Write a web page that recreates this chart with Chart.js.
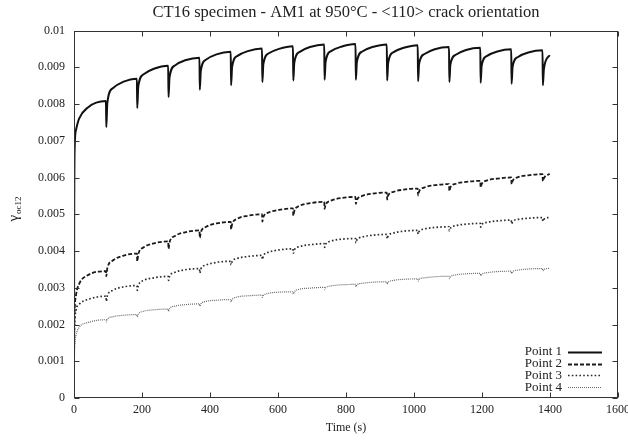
<!DOCTYPE html>
<html>
<head>
<meta charset="utf-8">
<script src="https://cdn.jsdelivr.net/npm/chart.js@4.4.1/dist/chart.umd.min.js"></script>
<style>
html,body{margin:0;padding:0;background:#fff;}
canvas{display:block;}
</style>
</head>
<body>
<canvas id="c" width="628" height="440"></canvas>
<script>
const chartTitle = 'CT16 specimen - AM1 at 950°C - <110> crack orientation';
const xTitle = 'Time (s)';
const seriesLabels = ['Point 1', 'Point 2', 'Point 3', 'Point 4'];
const xTickLabels = ['0','200','400','600','800','1000','1200','1400','1600'];
const yTickLabels = ['0','0.001','0.002','0.003','0.004','0.005','0.006','0.007','0.008','0.009','0.01'];

const times = [
  0, 0.5, 2, 6, 15, 40,
  94, 95, 98, 114, 144,
  185, 186, 189, 205, 235,
  277, 278, 281, 297, 327,
  369, 370, 373, 389, 419,
  461, 462, 465, 481, 511,
  553, 554, 557, 573, 603,
  644, 645, 648, 664, 694,
  736, 737, 740, 756, 786,
  828, 829, 832, 848, 878,
  920, 921, 924, 940, 970,
  1011, 1012, 1015, 1031, 1061,
  1103, 1104, 1107, 1123, 1153,
  1195, 1196, 1199, 1215, 1245,
  1286, 1287, 1290, 1306, 1336,
  1378, 1379, 1382, 1399
];

const point1 = [
  0, 0.0045, 0.0068, 0.0073, 0.0076, 0.0079,
  0.00808, 0.00737, 0.00803, 0.00843, 0.00860,
  0.00869, 0.00789, 0.00847, 0.00881, 0.00896,
  0.00904, 0.00819, 0.00873, 0.00905, 0.00919,
  0.00926, 0.00839, 0.00891, 0.00921, 0.00935,
  0.00942, 0.00851, 0.00901, 0.00931, 0.00944,
  0.00951, 0.00860, 0.00909, 0.00938, 0.00950,
  0.00957, 0.00864, 0.00913, 0.00942, 0.00955,
  0.00962, 0.00866, 0.00915, 0.00944, 0.00956,
  0.00963, 0.00866, 0.00914, 0.00943, 0.00955,
  0.00962, 0.00864, 0.00912, 0.00941, 0.00953,
  0.00960, 0.00862, 0.00909, 0.00936, 0.00949,
  0.00955, 0.00860, 0.00907, 0.00934, 0.00947,
  0.00953, 0.00858, 0.00904, 0.00931, 0.00943,
  0.00949, 0.00855, 0.00901, 0.00928, 0.00940,
  0.00946, 0.00851, 0.00895, 0.00933
];

const point2 = [
  0, 0.0016, 0.0024, 0.0028, 0.0031, 0.00334,
  0.00345, 0.00331, 0.00353, 0.00374, 0.00387,
  0.00393, 0.00372, 0.00391, 0.00410, 0.00421,
  0.00426, 0.00406, 0.00424, 0.00441, 0.00451,
  0.00456, 0.00436, 0.00451, 0.00466, 0.00475,
  0.00479, 0.00459, 0.00473, 0.00488, 0.00496,
  0.00500, 0.00480, 0.00493, 0.00505, 0.00512,
  0.00516, 0.00496, 0.00509, 0.00523, 0.00530,
  0.00534, 0.00515, 0.00526, 0.00537, 0.00544,
  0.00547, 0.00528, 0.00539, 0.00550, 0.00556,
  0.00559, 0.00540, 0.00551, 0.00561, 0.00567,
  0.00570, 0.00551, 0.00562, 0.00573, 0.00579,
  0.00582, 0.00563, 0.00573, 0.00583, 0.00588,
  0.00591, 0.00573, 0.00582, 0.00592, 0.00597,
  0.00600, 0.00582, 0.00591, 0.00601, 0.00606,
  0.00609, 0.00590, 0.00598, 0.00610
];

const point3 = [
  0, 0.0013, 0.0020, 0.0024, 0.00255, 0.00268,
  0.00277, 0.00263, 0.00278, 0.00293, 0.00302,
  0.00306, 0.00293, 0.00306, 0.00320, 0.00327,
  0.00331, 0.00320, 0.00331, 0.00342, 0.00349,
  0.00352, 0.00340, 0.00351, 0.00362, 0.00369,
  0.00372, 0.00362, 0.00371, 0.00380, 0.00385,
  0.00388, 0.00377, 0.00387, 0.00397, 0.00403,
  0.00406, 0.00394, 0.00403, 0.00412, 0.00417,
  0.00420, 0.00410, 0.00418, 0.00427, 0.00432,
  0.00434, 0.00422, 0.00430, 0.00438, 0.00443,
  0.00445, 0.00433, 0.00441, 0.00449, 0.00454,
  0.00456, 0.00446, 0.00453, 0.00460, 0.00464,
  0.00466, 0.00455, 0.00462, 0.00469, 0.00473,
  0.00475, 0.00465, 0.00472, 0.00478, 0.00482,
  0.00484, 0.00474, 0.00480, 0.00486, 0.00489,
  0.00491, 0.00481, 0.00486, 0.00492
];

const point4 = [
  0, 0.0009, 0.0014, 0.0017, 0.00192, 0.00205,
  0.00213, 0.00207, 0.00214, 0.00221, 0.00225,
  0.00227, 0.00221, 0.00228, 0.00236, 0.00240,
  0.00242, 0.00236, 0.00243, 0.00250, 0.00254,
  0.00256, 0.00250, 0.00256, 0.00263, 0.00266,
  0.00268, 0.00262, 0.00268, 0.00275, 0.00278,
  0.00280, 0.00274, 0.00279, 0.00285, 0.00288,
  0.00289, 0.00283, 0.00289, 0.00296, 0.00299,
  0.00301, 0.00295, 0.00300, 0.00305, 0.00308,
  0.00309, 0.00303, 0.00308, 0.00312, 0.00315,
  0.00316, 0.00310, 0.00315, 0.00320, 0.00323,
  0.00324, 0.00318, 0.00323, 0.00327, 0.00330,
  0.00331, 0.00325, 0.00330, 0.00335, 0.00338,
  0.00339, 0.00333, 0.00337, 0.00341, 0.00344,
  0.00345, 0.00339, 0.00344, 0.00348, 0.00351,
  0.00352, 0.00346, 0.00350, 0.00353
];

const FONT = "'Liberation Serif', 'DejaVu Serif', serif";
const styles = [
  {color: '#111111', width: 2.0, dash: []},
  {color: '#1a1a1a', width: 1.8, dash: [4, 2]},
  {color: '#2a2a2a', width: 1.7, dash: [1.6, 2.2]},
  {color: '#6a6a6a', width: 1.2, dash: [1, 1]}
];
const allSeries = [point1, point2, point3, point4];

const datasets = allSeries.map((s, k) => ({
  label: seriesLabels[k],
  data: times.map((t, i) => ({x: t, y: s[i]})),
  borderColor: styles[k].color,
  borderWidth: styles[k].width,
  borderDash: styles[k].dash,
  pointRadius: 0,
  fill: false,
  cubicInterpolationMode: 'monotone',
  borderCapStyle: 'butt',
  borderJoinStyle: 'round'
}));

const framePlugin = {
  id: 'frame',
  afterDraw(chart) {
    const {ctx, chartArea, scales} = chart;
    const L = Math.round(chartArea.left) + 0.5;
    const R = Math.round(chartArea.right) - 0.5;
    const T = Math.round(chartArea.top) + 0.5;
    const B = Math.round(chartArea.bottom) - 0.5;
    ctx.save();
    ctx.strokeStyle = '#333';
    ctx.lineWidth = 1;
    ctx.setLineDash([]);
    ctx.strokeRect(L, T, R - L, B - T);
    const tl = 5;
    ctx.beginPath();
    scales.x.ticks.forEach(tk => {
      const px = Math.round(scales.x.getPixelForValue(tk.value)) + 0.5;
      ctx.moveTo(px, B); ctx.lineTo(px, B - tl);
      ctx.moveTo(px, T); ctx.lineTo(px, T + tl);
    });
    scales.y.ticks.forEach(tk => {
      const py = Math.round(scales.y.getPixelForValue(tk.value)) + 0.5;
      ctx.moveTo(L, py); ctx.lineTo(L + tl, py);
      ctx.moveTo(R, py); ctx.lineTo(R - tl, py);
    });
    ctx.stroke();

    // Y axis title with subscript
    ctx.fillStyle = '#222';
    ctx.translate(18, 209);
    ctx.rotate(-Math.PI / 2);
    ctx.textBaseline = 'alphabetic';
    ctx.font = '15px ' + FONT;
    const g = 'γ';
    const gw = ctx.measureText(g).width;
    ctx.font = '9px ' + FONT;
    const sub = 'oc12';
    const sw = ctx.measureText(sub).width;
    const total = gw + sw + 1;
    ctx.font = '15px ' + FONT;
    ctx.textAlign = 'left';
    ctx.fillText(g, -total / 2, 0);
    ctx.font = '9px ' + FONT;
    ctx.fillText(sub, -total / 2 + gw + 1, 3);
    ctx.setTransform(1, 0, 0, 1, 0, 0);

    // Legend
    const items = chart.data.datasets;
    const textRight = 562;
    const x0 = 568, x1 = 602;
    const ys = [352, 363.7, 375.4, 387.1];
    ctx.font = '13px ' + FONT;
    ctx.textAlign = 'right';
    ctx.textBaseline = 'middle';
    items.forEach((ds, k) => {
      ctx.fillStyle = '#222';
      ctx.fillText(ds.label, textRight, ys[k]);
      ctx.beginPath();
      ctx.strokeStyle = ds.borderColor;
      ctx.lineWidth = ds.borderWidth;
      ctx.setLineDash(ds.borderDash);
      ctx.moveTo(x0, Math.round(ys[k]) + 0.5);
      ctx.lineTo(x1, Math.round(ys[k]) + 0.5);
      ctx.stroke();
    });
    ctx.restore();
  }
};

new Chart(document.getElementById('c'), {
  type: 'line',
  data: {datasets},
  plugins: [framePlugin],
  options: {
    responsive: false,
    devicePixelRatio: 1,
    animation: false,
    layout: {padding: {left: 0, right: 10, top: 0, bottom: 0}},
    plugins: {
      legend: {display: false},
      tooltip: {enabled: false},
      title: {
        display: true,
        text: chartTitle,
        fullSize: false,
        color: '#222',
        font: {family: FONT, size: 16.5, weight: 'normal'},
        padding: {top: 3, bottom: 7.7}
      }
    },
    scales: {
      x: {
        type: 'linear',
        min: 0, max: 1600,
        grid: {display: false, drawTicks: false},
        border: {display: false},
        ticks: {
          stepSize: 200,
          padding: 5,
          color: '#222',
          font: {family: FONT, size: 12},
          maxRotation: 0,
          autoSkip: false,
          callback: (v, i) => xTickLabels[i]
        },
        title: {
          display: true,
          text: xTitle,
          color: '#222',
          font: {family: FONT, size: 12},
          padding: {top: 0, bottom: 5}
        },
        afterFit(scale) {
          scale.height = 42;
          scale.paddingLeft = 0;
          scale.paddingRight = 0;
        }
      },
      y: {
        type: 'linear',
        min: 0, max: 0.01,
        grid: {display: false, drawTicks: false},
        border: {display: false},
        ticks: {
          stepSize: 0.001,
          padding: 9,
          color: '#222',
          font: {family: FONT, size: 12},
          autoSkip: false,
          callback: (v, i) => yTickLabels[i]
        },
        afterFit(scale) {
          scale.width = 74;
          scale.paddingTop = 0;
          scale.paddingBottom = 0;
        }
      }
    }
  }
});
</script>
</body>
</html>
